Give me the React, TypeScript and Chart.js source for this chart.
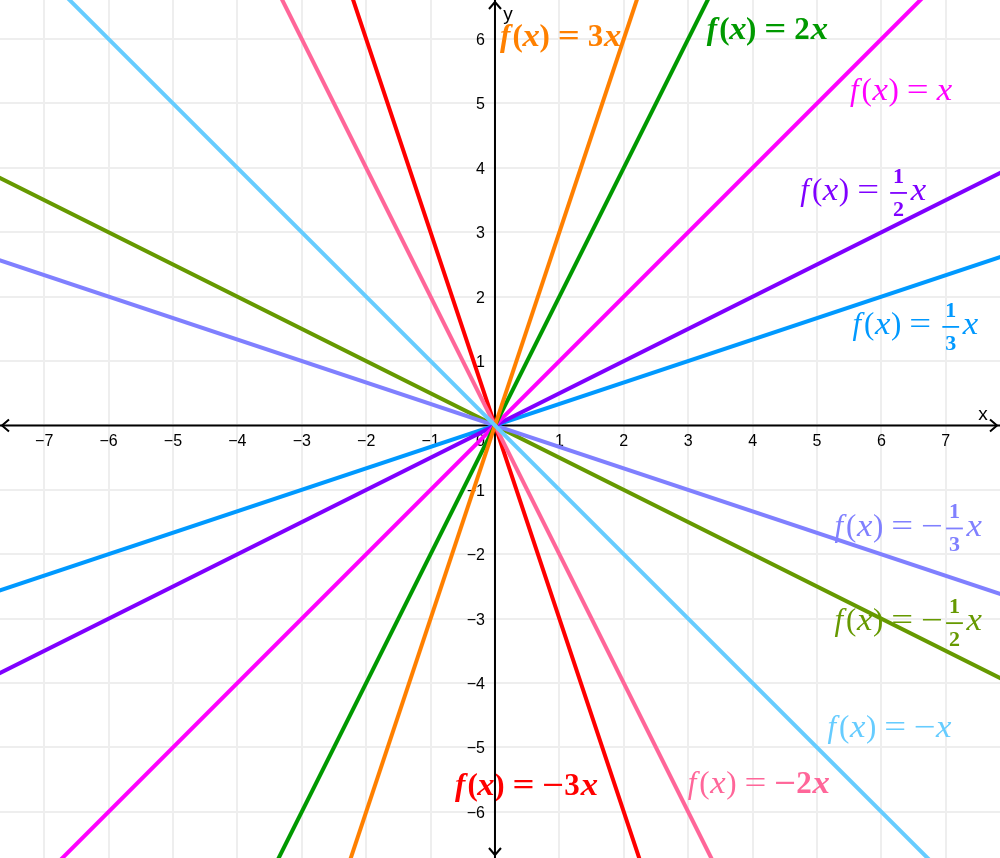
import { useEffect, useRef } from "react";
import { Chart, registerables } from "chart.js";

Chart.register(...registerables);

// Visible window (data units)
const X_MIN = -7.686;
const X_MAX = 7.842;
const Y_MIN = -6.717;
const Y_MAX = 6.606;

// Functions f(x) = k·x
const functionNames = [
  "f(x) = 3x",
  "f(x) = 2x",
  "f(x) = x",
  "f(x) = 1/2 x",
  "f(x) = 1/3 x",
  "f(x) = −1/3 x",
  "f(x) = −1/2 x",
  "f(x) = −x",
  "f(x) = −2x",
  "f(x) = −3x",
];
const slopes = [3, 2, 1, 1 / 2, 1 / 3, -1 / 3, -1 / 2, -1, -2, -3];
const coefNumerators = ["3", "2", "", "1", "1", "1", "1", "", "2", "3"];
const coefDenominators = ["", "", "", "2", "3", "3", "2", "", "", ""];
const lineColors = [
  "#ff8000",
  "#009900",
  "#ff00ff",
  "#7f00ff",
  "#0099ff",
  "#8080ff",
  "#669900",
  "#66ccff",
  "#ff6699",
  "#ff0000",
];
const boldPrefix = [true, true, false, false, false, false, false, false, false, true];

// Label anchors (data units): left edge, math-axis height
const labelAnchorX = [0.05, 3.26, 5.47, 4.7, 5.51, 5.23, 5.23, 5.12, 2.95, -0.65];
const labelAnchorY = [6.01, 6.11, 5.16, 3.61, 1.53, -1.6, -3.07, -4.73, -5.6, -5.63];

const lineXs = [-9, 9];
const xTickValues = [-7, -6, -5, -4, -3, -2, -1, 1, 2, 3, 4, 5, 6, 7];
const yTickValues = [-6, -5, -4, -3, -2, -1, 1, 2, 3, 4, 5, 6];

const SERIF = "'Liberation Serif', 'Times New Roman', serif";
const SANS = "'Liberation Sans', Arial, sans-serif";

function fmt(v: number) {
  return v < 0 ? "−" + Math.abs(v) : String(v);
}

type Tok = { t?: string; w: number; it?: boolean; b?: boolean; sx?: number; frac?: [string, string] };

function drawMathLabel(ctx: CanvasRenderingContext2D, left: number, axisY: number, i: number) {
  const S = 28; // layout em
  const G = 31; // glyph size
  const pb = boldPrefix[i];
  const neg = slopes[i] < 0;
  const num = coefNumerators[i];
  const den = coefDenominators[i];
  const intCoef = num !== "" && den === "";
  const toks: Tok[] = [];
  toks.push({ t: "f", w: 0.5, it: true, b: pb });
  toks.push({ t: "(", w: 0.389, b: pb });
  toks.push({ t: "x", w: 0.572, it: true, b: pb, sx: 1.12 });
  toks.push({ t: ")", w: 0.389, b: pb });
  toks.push({ w: 0.278 });
  toks.push({ t: "=", w: 0.778, b: pb, sx: 1.25 });
  toks.push({ w: 0.278 });
  if (neg) toks.push({ t: "−", w: 0.778, b: intCoef, sx: 1.25 });
  if (den) {
    toks.push({ frac: [num, den], w: 0.84 });
    toks.push({ t: "x", w: 0.572, it: true, sx: 1.12 });
  } else if (num) {
    toks.push({ t: num, w: 0.575, b: true });
    toks.push({ t: "x", w: 0.66, it: true, b: true, sx: 1.12 });
  } else {
    toks.push({ t: "x", w: 0.572, it: true, sx: 1.12 });
  }
  const baseline = axisY + 0.26 * S;
  ctx.save();
  ctx.fillStyle = lineColors[i];
  ctx.strokeStyle = lineColors[i];
  ctx.textAlign = "center";
  ctx.textBaseline = "alphabetic";
  let x = left;
  for (const tk of toks) {
    const w = tk.w * S;
    const cx = x + w / 2;
    if (tk.frac) {
      const fs = 22;
      ctx.font = `bold ${fs}px ${SERIF}`;
      ctx.fillText(tk.frac[0], cx, axisY - 10);
      ctx.fillText(tk.frac[1], cx, axisY + 23);
      ctx.lineWidth = 1.8;
      ctx.beginPath();
      const bw = 0.6 * S;
      ctx.moveTo(cx - bw / 2, axisY);
      ctx.lineTo(cx + bw / 2, axisY);
      ctx.stroke();
    } else if (tk.t) {
      ctx.font = `${tk.it ? "italic " : ""}${tk.b ? "bold " : ""}${G}px ${SERIF}`;
      const sx = tk.sx || 1;
      ctx.save();
      ctx.translate(cx, baseline);
      ctx.scale(sx, 1);
      ctx.fillText(tk.t, 0, 0);
      ctx.restore();
    }
    x += w;
  }
  ctx.restore();
}

const overlay = {
  id: "overlay",
  beforeDatasetsDraw(chart: any) {
    const ctx: CanvasRenderingContext2D = chart.ctx;
    const xs = chart.scales.x;
    const ys = chart.scales.y;
    const ox = xs.getPixelForValue(0);
    const oy = ys.getPixelForValue(0);
    ctx.save();

    // function labels
    slopes.forEach((_, i) =>
      drawMathLabel(ctx, xs.getPixelForValue(labelAnchorX[i]), ys.getPixelForValue(labelAnchorY[i]), i)
    );

    // axes
    ctx.strokeStyle = "#000";
    ctx.lineWidth = 2;
    ctx.beginPath();
    ctx.moveTo(xs.left, oy);
    ctx.lineTo(xs.right, oy);
    ctx.moveTo(ox, ys.top);
    ctx.lineTo(ox, ys.bottom);
    ctx.stroke();

    // arrow heads
    const a = 7;
    const b = 6;
    const L = xs.left + 2;
    const R = xs.right - 3;
    const T = ys.top + 2;
    const B = ys.bottom - 3;
    ctx.lineJoin = "round";
    ctx.beginPath();
    ctx.moveTo(R - a, oy - b);
    ctx.lineTo(R, oy);
    ctx.lineTo(R - a, oy + b);
    ctx.moveTo(L + a, oy - b);
    ctx.lineTo(L, oy);
    ctx.lineTo(L + a, oy + b);
    ctx.moveTo(ox - b, T + a);
    ctx.lineTo(ox, T);
    ctx.lineTo(ox + b, T + a);
    ctx.moveTo(ox - b, B - a);
    ctx.lineTo(ox, B);
    ctx.lineTo(ox + b, B - a);
    ctx.stroke();

    // tick labels
    ctx.fillStyle = "#000";
    ctx.font = `16px ${SANS}`;
    ctx.textAlign = "center";
    ctx.textBaseline = "middle";
    xTickValues.forEach((v) => ctx.fillText(fmt(v), xs.getPixelForValue(v), oy + 16));
    ctx.textAlign = "right";
    yTickValues.forEach((v) => ctx.fillText(fmt(v), ox - 10, ys.getPixelForValue(v) + 1.5));
    ctx.fillText("0", ox - 10, oy + 16);

    // axis names
    ctx.font = `19px ${SANS}`;
    ctx.textAlign = "center";
    ctx.textBaseline = "alphabetic";
    ctx.fillText("x", xs.right - 17, oy - 5);
    ctx.fillText("y", ox + 13, ys.top + 20);

    ctx.restore();
  },
};

export default function App() {
  const ref = useRef<HTMLCanvasElement>(null);
  useEffect(() => {
    const canvas = ref.current;
    if (!canvas) return;
    const chart = new Chart(canvas, {
      type: "scatter",
      data: {
        datasets: slopes.map((k, i) => ({
          label: functionNames[i],
          data: lineXs.map((x) => ({ x, y: k * x })),
          showLine: true,
          borderColor: lineColors[i],
          backgroundColor: lineColors[i],
          borderWidth: 4,
          pointRadius: 0,
          pointHoverRadius: 0,
          order: k === -1 ? 0 : 1,
        })),
      },
      options: {
        responsive: true,
        maintainAspectRatio: false,
        animation: false,
        events: [],
        layout: { padding: 0 },
        plugins: { legend: { display: false }, tooltip: { enabled: false } },
        scales: {
          x: {
            type: "linear",
            min: X_MIN,
            max: X_MAX,
            ticks: { display: false, stepSize: 1, includeBounds: false },
            grid: { color: "#eeeeee", lineWidth: 2, drawTicks: false },
            border: { display: false },
          },
          y: {
            type: "linear",
            min: Y_MIN,
            max: Y_MAX,
            ticks: { display: false, stepSize: 1, includeBounds: false },
            grid: { color: "#eeeeee", lineWidth: 2, drawTicks: false },
            border: { display: false },
          },
        },
      },
      plugins: [overlay],
    } as any);
    return () => chart.destroy();
  }, []);
  return (
    <div style={{ position: "fixed", left: 0, top: 0, width: 1000, height: 858, background: "#fff" }}>
      <canvas ref={ref} style={{ display: "block" }} />
    </div>
  );
}
